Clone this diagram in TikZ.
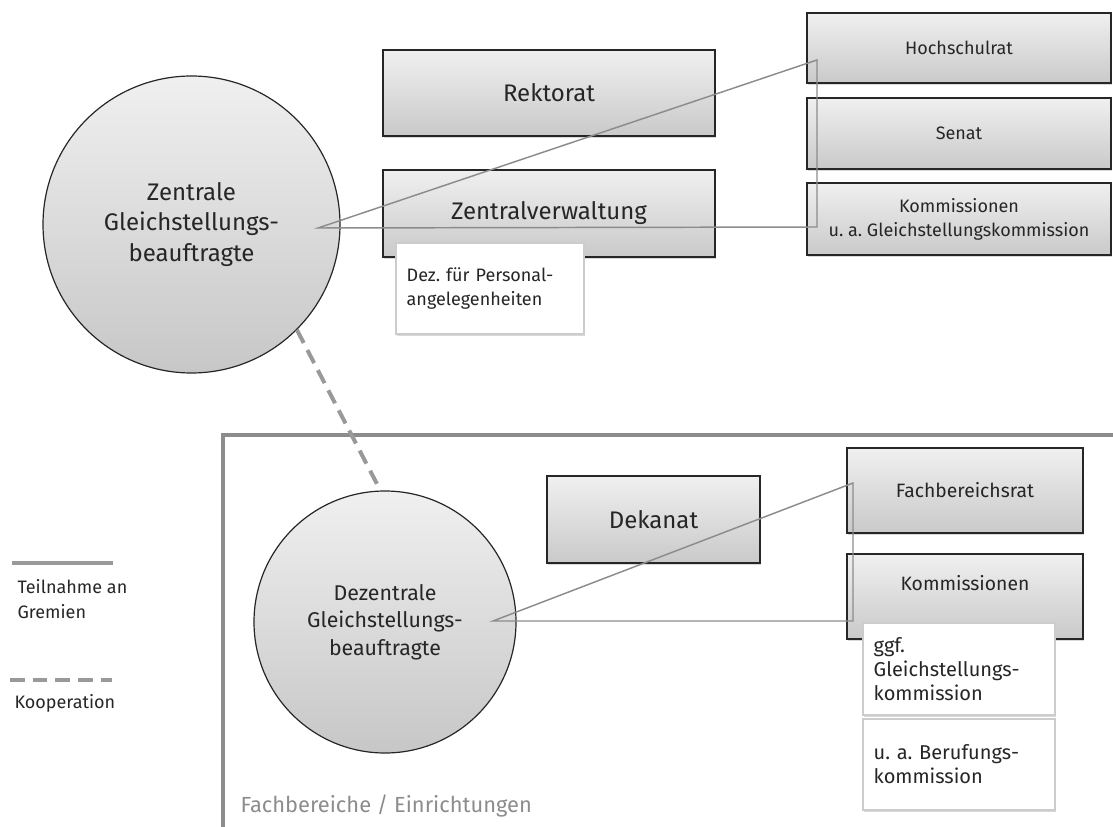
\documentclass[tikz,border=0pt]{standalone}
\usepackage{fontspec}
\setmainfont{Fira Sans}
\usetikzlibrary{shadows}
\frenchspacing
\begin{document}
\begin{tikzpicture}
[x=.75pt,y=-.75pt,line width=.9pt,
 gbox/.style={draw=black!85,top color=black!6,bottom color=black!21,text=black!85,inner sep=0pt,
   drop shadow={shadow xshift=1pt,shadow yshift=-1.5pt,opacity=.3}},
 wbox/.style={draw=black!20,fill=white,text=black!85,align=left,inner xsep=8pt,
   drop shadow={shadow xshift=1pt,shadow yshift=-1.5pt,opacity=.3},font=\fontsize{13.5}{18}\selectfont},
 ball/.style={circle,draw=black!85,top color=black!6,bottom color=black!22,text=black!85,align=center,inner sep=0pt},
 big/.style={font=\fontsize{18}{22}\selectfont},
 small/.style={font=\fontsize{13.5}{18}\selectfont,align=center},
 link/.style={draw=black!45,line width=1.1pt},
 coop/.style={draw=black!40,line width=3pt,dash pattern=on 11pt off 6pt}]

\useasboundingbox (0,0) rectangle (1113,827);

\draw[black!45,line width=2.4pt] (223,840) -- (223,435) -- (1120,435); %frame
\node[anchor=base west,inner sep=0pt,text=black!45,font=\fontsize{16.4}{18}\selectfont] (fbe) at (240,812) {Fachbereiche / Einrichtungen};

% zentral
\node[gbox,big,minimum width=249pt,minimum height=64.5pt] (rek) at (549,93) {Rektorat};
\node[gbox,big,minimum width=249pt,minimum height=65.25pt] (zv) at (549,213.5) {Zentralverwaltung};
\node[wbox,text width=125pt,minimum height=68.25pt] (dez) at (490,288.5) {Dez. für Personal-\\angelegenheiten};
\node[gbox,small,minimum width=228pt,minimum height=52.5pt] (hsr) at (959,48) {Hochschulrat};
\node[gbox,small,minimum width=228pt,minimum height=53.25pt] (sen) at (959,133.5) {Senat};
\node[gbox,small,minimum width=228pt,minimum height=54pt] (kom) at (959,219) {Kommissionen\\u. a. Gleichstellungskommission};
\node[ball,minimum size=222.75pt,font=\fontsize{18}{23}\selectfont] (zgb) at (191.5,224.5) {Zentrale\\Gleichstellungs-\\beauftragte};

% dezentral
\node[gbox,big,minimum width=159.75pt,minimum height=65.25pt] (dek) at (653.5,519.5) {Dekanat};
\node[gbox,small,font=\fontsize{14.5}{18}\selectfont,minimum width=177pt,minimum height=63.75pt] (fbr) at (965,490.5) {Fachbereichsrat};
\node[gbox,small,font=\fontsize{14.5}{18}\selectfont,minimum width=177pt,minimum height=63.75pt,text depth=20pt] (kom2) at (965,596.5) {Kommissionen};
\node[wbox,font=\fontsize{15}{18}\selectfont,text width=128pt,minimum height=69pt] (ggf) at (959,669) {ggf.\\Gleichstellungs-\\kommission};
\node[wbox,font=\fontsize{15}{18}\selectfont,text width=128pt,minimum height=68.25pt] (uab) at (959,764.5) {u. a. Berufungs-\\kommission};
\node[ball,minimum size=196.5pt,font=\fontsize{16}{20.5}\selectfont] (dgb) at (385,622) {Dezentrale\\Gleichstellungs-\\beauftragte};

% gremien
\coordinate (zg-out) at (318,228);
\coordinate (hsr-in) at (817,60);
\coordinate (kom-in) at (817,227);
\draw[link] (zg-out) -- (hsr-in) -- (kom-in) -- cycle;
\coordinate (dg-out) at (493,621);
\coordinate (fbr-in) at (853,483);
\coordinate (kom2-in) at (853,621);
\draw[link] (dg-out) -- (fbr-in) -- (kom2-in) -- cycle;
\draw[coop] (zgb.-45) -- (dgb.92);

% legende
\coordinate (l1a) at (12,563); \coordinate (l1b) at (113,563);
\coordinate (l2a) at (10,680); \coordinate (l2b) at (112,680);
\draw[black!40,line width=3pt] (l1a) -- (l1b);
\draw[coop] (l2a) -- (l2b);
\node[anchor=base west,inner sep=0pt,align=left,text=black!85,font=\fontsize{13.5}{18.75}\selectfont] (leg1) at (17,618) {Teilnahme an\\Gremien};
\node[anchor=base west,inner sep=0pt,text=black!85,font=\fontsize{13.5}{18.75}\selectfont] (leg2) at (14,708) {Kooperation};

\end{tikzpicture}
\end{document}
